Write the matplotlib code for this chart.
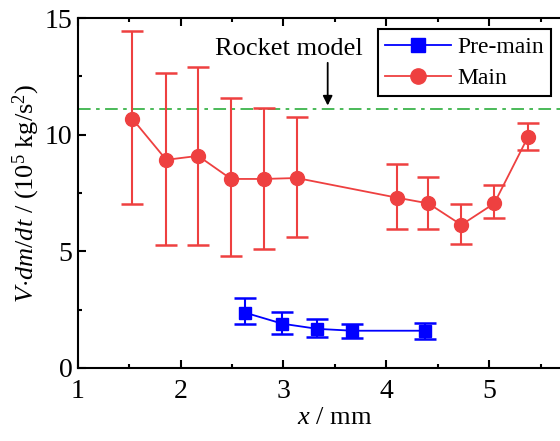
import numpy as np
import matplotlib
matplotlib.use('Agg')
import matplotlib.pyplot as plt
from matplotlib.lines import Line2D

plt.rcParams['font.family'] = ['Liberation Serif', 'DejaVu Serif']
plt.rcParams['mathtext.fontset'] = 'custom'
plt.rcParams['mathtext.rm'] = 'Liberation Serif'
plt.rcParams['mathtext.it'] = 'Liberation Serif:italic'

# Main data
main_x = [1.53, 1.86, 2.17, 2.49, 2.81, 3.13, 4.10, 4.41, 4.73, 5.05, 5.38]
main_y = [10.68, 8.92, 9.09, 8.10, 8.10, 8.14, 7.30, 7.05, 6.13, 7.05, 9.92]
main_hi = [14.44, 12.64, 12.90, 11.57, 11.14, 10.76, 8.74, 8.19, 7.03, 7.84, 10.50]
main_lo = [7.03, 5.27, 5.27, 4.80, 5.10, 5.60, 5.96, 5.96, 5.31, 6.43, 9.34]

# Pre-main data
pre_x = [2.63, 2.99, 3.33, 3.67, 4.38]
pre_y = [2.36, 1.89, 1.67, 1.59, 1.59]
pre_hi = [3.00, 2.40, 2.10, 1.89, 1.93]
pre_lo = [1.89, 1.46, 1.33, 1.29, 1.24]

rocket_level = 11.08

red = '#EE4040'
blue = '#0000FF'
green = '#3CB44B'

fig = plt.figure(figsize=(5.6, 4.41), dpi=100)
ax = fig.add_axes([0.139, 0.166, 0.918, 0.793])

main_err = [np.array(main_y) - np.array(main_lo), np.array(main_hi) - np.array(main_y)]
pre_err = [np.array(pre_y) - np.array(pre_lo), np.array(pre_hi) - np.array(pre_y)]

ax.axhline(rocket_level, color=green, linestyle=(0, (7, 3, 2, 3)), linewidth=1.3, zorder=1)

ax.errorbar(pre_x, pre_y, yerr=pre_err, color=blue, marker='s', markersize=9,
            linewidth=1.3, elinewidth=1.5, capsize=8, capthick=1.8, zorder=3)
ax.errorbar(main_x, main_y, yerr=main_err, color=red, marker='o', markersize=10,
            linewidth=1.3, elinewidth=1.5, capsize=8, capthick=1.8, zorder=3)

# rocket model label with vertical arrow
ax.text(3.05, 13.2, 'Rocket model', ha='center', va='bottom', fontsize=19)
ax.annotate('', xy=(3.43, rocket_level + 0.05), xytext=(3.43, 13.2),
            arrowprops=dict(arrowstyle='-|>', color='black', lw=1.3, mutation_scale=14))

ax.set_xlim(1, 6)
ax.set_ylim(0, 15)
ax.set_xticks([1, 2, 3, 4, 5])
ax.set_xticks(np.arange(1.5, 6, 1), minor=True)
ax.set_yticks([0, 5, 10, 15])
ax.set_yticks([2.5, 7.5, 12.5], minor=True)
ax.tick_params(axis='both', which='both', direction='in', top=True, right=True, labelsize=20)
ax.tick_params(which='major', length=6, width=1.5)
ax.tick_params(which='minor', length=3, width=1.5)
ax.tick_params(axis='x', pad=8)
ax.tick_params(axis='y', pad=4)
for s in ax.spines.values():
    s.set_linewidth(1.5)

ax.set_xlabel(r'$x$ / mm', fontsize=19, labelpad=2)
ax.set_ylabel(r'$V{\cdot}dm/dt$ / (10$^5$ kg/s$^2$)', fontsize=19, labelpad=2)

handles = [Line2D([], [], color=blue, marker='s', markersize=10, linewidth=1.3),
           Line2D([], [], color=red, marker='o', markersize=11, linewidth=1.3)]
leg = ax.legend(handles, ['Pre-main', 'Main'], loc='upper left', bbox_to_anchor=(0.584, 0.968),
                fontsize=17, frameon=True, fancybox=False, edgecolor='black',
                handlelength=2.8, borderpad=0.3, labelspacing=0.4, handletextpad=0.25,
                borderaxespad=0, framealpha=1)
leg.get_frame().set_linewidth(1.5)

fig.savefig('out.png', dpi=100)
